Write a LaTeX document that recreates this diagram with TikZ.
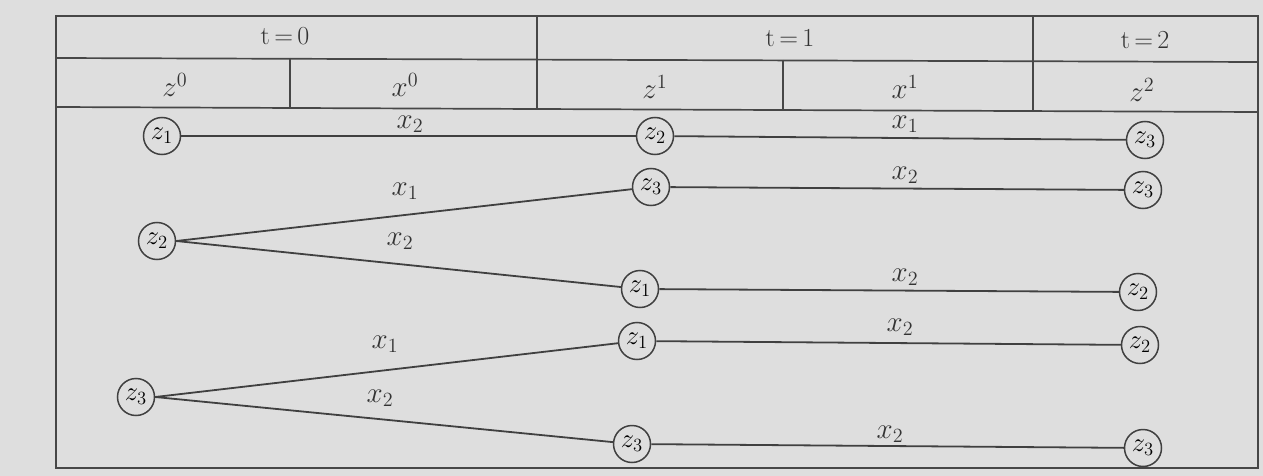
\documentclass[tikz,border=0pt]{standalone}
\newcommand{\sclm}[2]{\scalebox{#1}{$#2$}}
\begin{document}
\begin{tikzpicture}[x=1pt,y=-1pt,
  grid/.style={draw=black!72, line width=1.7pt},
  edge/.style={draw=black!75, line width=1.8pt},
  st/.style={circle, draw=black!75, line width=1.5pt, minimum size=37pt, inner sep=0pt, font=\fontsize{17}{19}\selectfont},
  lab/.style={font=\fontsize{20}{22}\selectfont, text=black!80},
  hd/.style={font=\fontsize{20}{22}\selectfont, text=black!80}]
\fill[black!13] (0,0) rectangle (1263,476);
\useasboundingbox (0,0) rectangle (1263,476);
% table
\draw[grid] (56,16) rectangle (1258,468);
\draw[grid] (56,58) -- (1258,62);
\draw[grid] (56,107) -- (1258,112);
\draw[grid] (537,16) -- (537,109);
\draw[grid] (1033,16) -- (1033,111);
\draw[grid] (290,58) -- (290,108);
\draw[grid] (783,60) -- (783,110);
% headers
\node[hd] (t0) at (285,36) {\scalebox{1.3}{t\,=\,0}};
\node[hd] (t1) at (790,38) {\scalebox{1.3}{t\,=\,1}};
\node[hd] (t2) at (1145,40) {\scalebox{1.3}{t\,=\,2}};
\node[lab] (h1) at (175,85) {\sclm{1.4}{z^0}};
\node[lab] (h2) at (405,85) {\sclm{1.4}{x^0}};
\node[lab] (h3) at (655,87) {\sclm{1.4}{z^1}};
\node[lab] (h4) at (905,87) {\sclm{1.4}{x^1}};
\node[lab] (h5) at (1142,90) {\sclm{1.4}{z^2}};
% level 0
\node[st] (a1) at (162,136) {\sclm{1.55}{z_1}};
\node[st] (a2) at (157,241) {\sclm{1.55}{z_2}};
\node[st] (a3) at (136,397) {\sclm{1.55}{z_3}};
% level 1
\node[st] (b1) at (655,136) {\sclm{1.55}{z_2}};
\node[st] (b2) at (651,187) {\sclm{1.55}{z_3}};
\node[st] (b3) at (640,289) {\sclm{1.55}{z_1}};
\node[st] (b4) at (637,341) {\sclm{1.55}{z_1}};
\node[st] (b5) at (632,444) {\sclm{1.55}{z_3}};
% level 2
\node[st] (c1) at (1145,140) {\sclm{1.55}{z_3}};
\node[st] (c2) at (1143,190) {\sclm{1.55}{z_3}};
\node[st] (c3) at (1138,292) {\sclm{1.55}{z_2}};
\node[st] (c4) at (1140,345) {\sclm{1.55}{z_2}};
\node[st] (c5) at (1143,448) {\sclm{1.55}{z_3}};
% edges
\draw[edge] (a1) -- (b1);
\draw[edge] (a2.east) -- (b2);
\draw[edge] (a2.east) -- (b3);
\draw[edge] (a3.east) -- (b4);
\draw[edge] (a3.east) -- (b5);
\draw[edge] (b1) -- (c1);
\draw[edge] (b2) -- (c2);
\draw[edge] (b3) -- (c3);
\draw[edge] (b4) -- (c4);
\draw[edge] (b5) -- (c5);
% edge labels
\node[lab] (l1) at (410,124) {\sclm{1.4}{x_2}};
\node[lab] (l2) at (405,191) {\sclm{1.4}{x_1}};
\node[lab] (l3) at (400,241) {\sclm{1.4}{x_2}};
\node[lab] (l4) at (385,344) {\sclm{1.4}{x_1}};
\node[lab] (l5) at (380,398) {\sclm{1.4}{x_2}};
\node[lab] (m1) at (905,124) {\sclm{1.4}{x_1}};
\node[lab] (m2) at (905,175) {\sclm{1.4}{x_2}};
\node[lab] (m3) at (905,277) {\sclm{1.4}{x_2}};
\node[lab] (m4) at (900,327) {\sclm{1.4}{x_2}};
\node[lab] (m5) at (890,434) {\sclm{1.4}{x_2}};
\end{tikzpicture}
\end{document}
